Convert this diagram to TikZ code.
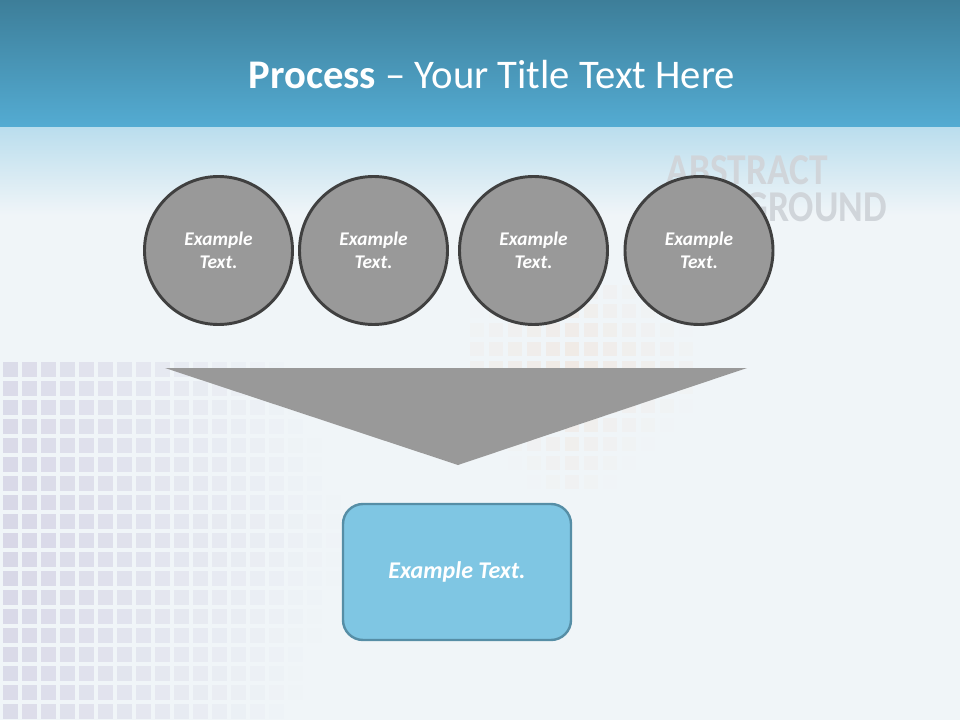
\documentclass[tikz,border=0pt]{standalone}
\usepackage{fontspec}
\setmainfont{Carlito}
\usetikzlibrary{positioning}
\definecolor{bandtop}{RGB}{61,126,153}
\definecolor{bandbot}{RGB}{84,172,211}
\definecolor{slidebg}{RGB}{240,245,248}
\definecolor{circfill}{RGB}{153,153,153}
\definecolor{circline}{RGB}{64,64,64}
\definecolor{boxfill}{RGB}{127,198,227}
\definecolor{boxline}{RGB}{86,142,166}
\definecolor{lavender}{RGB}{200,196,220}
\definecolor{peach}{RGB}{240,200,170}
\definecolor{markgray}{RGB}{208,213,218}
\tikzset{
  stepcircle/.style={circle,draw=circline,line width=2.2pt,fill=circfill,
    minimum size=111pt,inner sep=0pt,align=center,text=white,
    font=\fontsize{14.5}{17}\selectfont\bfseries\itshape},
  resultbox/.style={rounded corners=15pt,draw=boxline,line width=1.8pt,fill=boxfill,
    minimum width=171pt,minimum height=102pt,text=white,
    font=\fontsize{18}{22}\selectfont\bfseries\itshape},
  watermark/.style={text=markgray,inner sep=0pt,text depth=0pt,align=right,
    font=\fontsize{33}{27.75}\selectfont\bfseries}
}
\begin{document}
\begin{tikzpicture}[x=0.75pt,y=-0.75pt]
\useasboundingbox (0,0) rectangle (960,720);
% background
\fill[slidebg] (0,0) rectangle (960,720);
\shade[top color=bandtop,bottom color=bandbot] (0,0) rectangle (960,128);
\shade[top color=bandbot!40!white,bottom color=slidebg] (0,128) rectangle (960,215);
% squares
\foreach \i in {0,...,17}
  \foreach \j in {0,...,18}
    \pgfmathsetmacro{\op}{max(0,0.6-0.034*\i-0.01*abs(\j-9))}
    \fill[lavender,opacity=\op] (3+19*\i,362+19*\j) rectangle ++(15,15);
\foreach \i in {0,...,11}
  \foreach \j in {0,...,10}
    \pgfmathsetmacro{\op}{max(0,0.25-0.03*abs(\i-5)-0.03*abs(\j-4))}
    \fill[peach,opacity=\op] (470+19*\i,285+19*\j) rectangle ++(14,14);
% watermark
\node[watermark,xscale=0.85,anchor=south east] (mark) at (887,222) {ABSTRACT\hspace*{52pt}\\BACKGROUND};
% title
\node[text=white,font=\fontsize{30.5}{36}\selectfont] (title) at (492,75) {\textbf{Process} -- Your Title Text Here};
% circles
\node[stepcircle] (c1) at (218.5,250.5) {Example\\Text.};
\node[stepcircle] (c2) at (373.5,250.5) {Example\\Text.};
\node[stepcircle] (c3) at (533.5,250.5) {Example\\Text.};
\node[stepcircle] (c4) at (699,250.5) {Example\\Text.};
% funnel
\coordinate (fl) at (165,368);
\coordinate (fr) at (747,368);
\coordinate (fa) at (458,465);
\fill[circfill] (fl) -- (fr) -- (fa) -- cycle;
% result
\node[resultbox] (res) at (457,572) {Example Text.};
\end{tikzpicture}
\end{document}
